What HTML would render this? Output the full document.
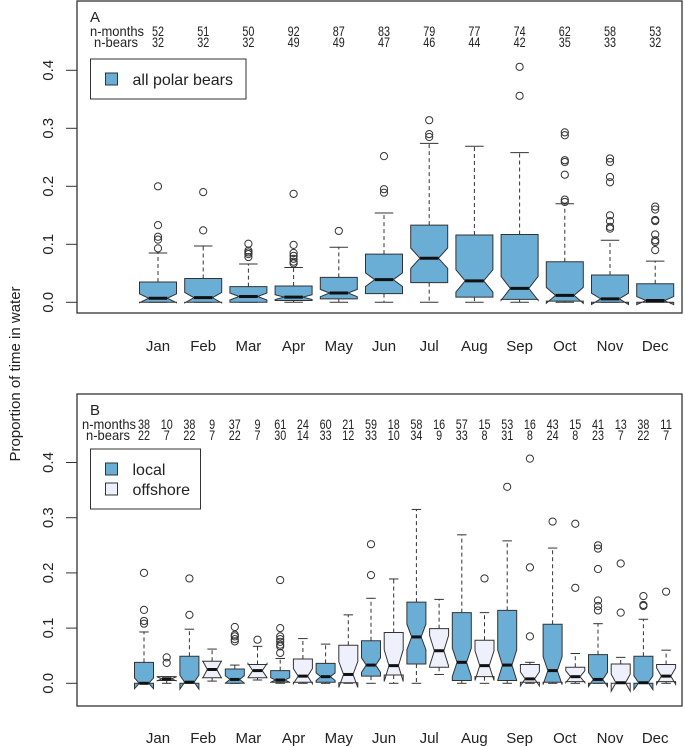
<!DOCTYPE html>
<html><head><meta charset="utf-8"><style>
body{margin:0;background:#fff;}
svg{display:block;font-family:"Liberation Sans",sans-serif;}
</style></head><body>
<svg id="c" width="685" height="747"></svg>
<script>
const months=["Jan","Feb","Mar","Apr","May","Jun","Jul","Aug","Sep","Oct","Nov","Dec"];
const yTicks=[0,0.1,0.2,0.3,0.4];
// Panel A
const aN=[52,51,50,92,87,83,79,77,74,62,58,53];
const aBears=[32,32,32,49,49,47,46,44,42,35,33,32];
const aQ1=[0,0,0,0.003,0.006,0.015,0.034,0.009,0.005,0.002,0,0];
const aMed=[0.007,0.008,0.01,0.009,0.016,0.039,0.076,0.037,0.024,0.012,0.006,0.003];
const aQ3=[0.035,0.041,0.027,0.028,0.043,0.083,0.133,0.116,0.117,0.07,0.047,0.032];
const aLo=[0,0,0,0,0,0,0,0,0,0,0,0];
const aHi=[0.085,0.097,0.066,0.06,0.095,0.154,0.274,0.269,0.258,0.17,0.107,0.071];
const aOut=[[0.2,0.133,0.113,0.108,0.093],[0.19,0.124],[0.101,0.089,0.086,0.083,0.078],[0.187,0.099,0.085,0.08,0.075,0.07,0.067],[0.123],[0.252,0.195,0.189],[0.314,0.29,0.285],[],[0.406,0.356],[0.293,0.288,0.245,0.242,0.22,0.177,0.173],[0.248,0.242,0.216,0.207,0.15,0.14,0.13,0.127],[0.165,0.16,0.142,0.14,0.117,0.107,0.104,0.09]];
// Panel B (local, offshore interleaved by month)
const bN=[38,10,38,9,37,9,61,24,60,21,59,18,58,16,57,15,53,16,43,15,41,13,38,11];
const bBears=[22,7,22,7,22,7,30,14,33,12,33,10,34,9,33,8,31,8,24,8,23,7,22,7];
const bQ1=[0,0.005,0,0.01,0,0.01,0.002,0.002,0.002,0.001,0.013,0.015,0.035,0.029,0.005,0.012,0.005,0.002,0.002,0.003,0,0,0,0.003];
const bMed=[0,0.008,0.002,0.025,0.007,0.023,0.006,0.013,0.012,0.016,0.033,0.032,0.084,0.059,0.038,0.032,0.033,0.008,0.023,0.012,0.007,0.001,0.001,0.013];
const bQ3=[0.038,0.012,0.049,0.04,0.026,0.034,0.023,0.044,0.036,0.069,0.077,0.092,0.147,0.099,0.128,0.078,0.132,0.034,0.107,0.029,0.052,0.035,0.049,0.034];
const bLo=[0,0,0,0.004,0,0.006,0,0,0,0,0,0,0,0.016,0,0,0,0,0,0,0,0,0,0];
const bHi=[0.093,0.012,0.098,0.062,0.033,0.067,0.045,0.081,0.071,0.124,0.154,0.189,0.315,0.152,0.269,0.128,0.258,0.038,0.245,0.054,0.108,0.047,0.116,0.06];
const bOut=[[0.2,0.133,0.113,0.108],[0.047,0.037],[0.19,0.124],[],[0.102,0.088,0.085,0.08,0.076],[0.079],[0.187,0.1,0.085,0.08,0.075,0.07,0.067,0.055],[],[],[],[0.252,0.196],[],[],[],[],[0.19],[0.356],[0.407,0.21,0.085],[0.293],[0.289,0.173],[0.25,0.244,0.207,0.15,0.14,0.132],[0.217,0.128],[0.158,0.142,0.14],[0.166]];

const NS="http://www.w3.org/2000/svg";
const svg=document.getElementById('c');
function mk(tag,attrs,parent,text){const e=document.createElementNS(NS,tag);for(const k in attrs)e.setAttribute(k,attrs[k]);if(text!==undefined)e.textContent=text;(parent||svg).appendChild(e);return e;}
const BLUE="#6aaed6",PALE="#eef0fb",STROKE="#333";
const HF=14;

function panel(cfg){
  const g=mk('g',{});
  
  
  const y=v=>cfg.y0-v*cfg.ys;
  const fr=mk('rect',{x:77,y:cfg.top,width:605,height:cfg.bottom-cfg.top,fill:'none',stroke:STROKE,'stroke-width':1.3},g);
  
  yTicks.forEach(t=>{
    const tk=mk('line',{x1:66,x2:77,y1:y(t),y2:y(t),stroke:STROKE},g);
    
    const tl=mk('text',{x:53,y:y(t),'font-size':15,'text-anchor':'middle',transform:`rotate(-90 53 ${y(t)})`,fill:'#222'},g,t.toFixed(1));
    
  });
  const lt=mk('text',{x:90,y:cfg.top+21,'font-size':15,fill:'#222'},g,cfg.letter);
  
  const r1=mk('text',{x:cfg.labEnd-54,y:cfg.top+35,'font-size':HF,textLength:54,lengthAdjust:'spacingAndGlyphs',fill:'#222'},g,'n-months');
  
  const r2=mk('text',{x:cfg.labEnd-50,y:cfg.top+46,'font-size':HF,textLength:44,lengthAdjust:'spacingAndGlyphs',fill:'#222'},g,'n-bears');
  
  months.forEach((m,i)=>{
    const ml=mk('text',{x:158+i*45.2,y:cfg.monthY,'font-size':15,'text-anchor':'middle',fill:'#222'},g,m);
    
  });
  cfg.med.forEach((md,i)=>{
    const cx=cfg.xpos(i),w=cfg.bw,hw=w/2;
    const fill=cfg.fill(i);
    const nn=cfg.n[i];
    const s1=String(nn),s2=String(cfg.bears[i]);
    const nl=mk('text',{x:cx-s1.length*3,y:cfg.top+35,'font-size':HF,textLength:s1.length*6,lengthAdjust:'spacingAndGlyphs',fill:'#222'},g,s1);
    
    const bl=mk('text',{x:cx-s2.length*3,y:cfg.top+46,'font-size':HF,textLength:s2.length*6,lengthAdjust:'spacingAndGlyphs',fill:'#222'},g,s2);
    
    const iqr=cfg.q3[i]-cfg.q1[i];
    const nd=1.58*iqr/Math.sqrt(nn);
    const nlo=md-nd,nhi=md+nd;
    [[cfg.q3[i],cfg.hi[i]],[cfg.q1[i],cfg.lo[i]]].forEach(([a,b])=>{
      const wl=mk('line',{x1:cx,x2:cx,y1:y(a),y2:y(b),stroke:STROKE,'stroke-dasharray':'4,3'},g);
      
      const cp=mk('line',{x1:cx-hw/2,x2:cx+hw/2,y1:y(b),y2:y(b),stroke:STROKE},g);
      
    });
    const pts=[[cx-hw,y(cfg.q1[i])],[cx-hw,y(nlo)],[cx-hw/2,y(md)],[cx-hw,y(nhi)],[cx-hw,y(cfg.q3[i])],[cx+hw,y(cfg.q3[i])],[cx+hw,y(nhi)],[cx+hw/2,y(md)],[cx+hw,y(nlo)],[cx+hw,y(cfg.q1[i])]];
    const bx=mk('polygon',{points:pts.map(p=>p.join(',')).join(' '),fill:fill,stroke:STROKE,'stroke-width':1},g);
    
    const ml=mk('line',{x1:cx-hw/2,x2:cx+hw/2,y1:y(md),y2:y(md),stroke:'#111','stroke-width':3},g);
    
    cfg.out[i].forEach(o=>{
      const c=mk('circle',{cx:cx,cy:y(o),r:3.6,fill:'none',stroke:STROKE,'stroke-width':1},g);
      
    });
  });
  return g;
}
panel({name:'panel-a',letter:'A',top:1,bottom:313,y0:302.3,ys:580,monthY:351,labEnd:144,
  xpos:i=>158+i*45.2,bw:37,fill:()=>BLUE,n:aN,bears:aBears,q1:aQ1,med:aMed,q3:aQ3,lo:aLo,hi:aHi,out:aOut});
panel({name:'panel-b',letter:'B',top:394,bottom:706,y0:683.3,ys:552,monthY:743,labEnd:136,
  xpos:i=>144+i*22.7,bw:19,fill:i=>i%2?PALE:BLUE,n:bN,bears:bBears,q1:bQ1,med:bMed,q3:bQ3,lo:bLo,hi:bHi,out:bOut});

function legend(x,y,w,h,items){
  const g=mk('g',{});
  
  
  mk('rect',{x:x,y:y,width:w,height:h,fill:'#fff',stroke:STROKE,'stroke-width':1},g);
  items.forEach((it,k)=>{
    const yy=y+20+k*20;
    const sw=mk('rect',{x:x+15,y:yy-6,width:12,height:12,fill:it[1],stroke:STROKE},g);
    
    const t=mk('text',{x:x+42,y:yy+6,'font-size':16,fill:'#222'},g,it[0]);
    
  });
}
legend(90.5,59,155.5,40,[['all polar bears',BLUE]]);
legend(90.5,449,110,60,[['local',BLUE],['offshore',PALE]]);

const yt=mk('text',{x:20,y:374,'font-size':15,'text-anchor':'middle',transform:'rotate(-90 20 374)',fill:'#222'},svg,'Proportion of time in water');


</script>
</body></html>
